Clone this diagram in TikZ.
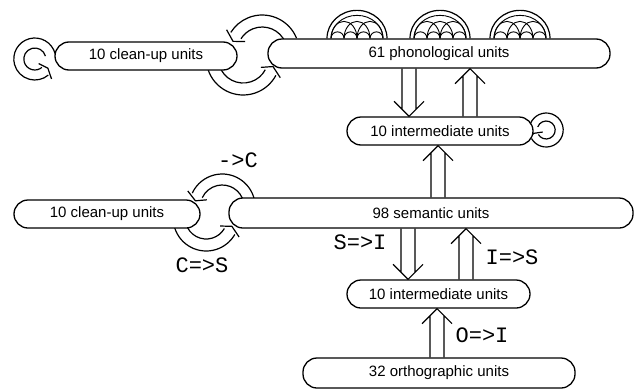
\documentclass[tikz,border=0pt]{standalone}
\usepackage{fontspec}
\setmainfont{Liberation Sans}
\newfontfamily\labelfont{Liberation Mono}
\usetikzlibrary{calc}
\tikzstyle{unit} = [draw, line width=1.3pt, fill=white, rounded corners=14pt, minimum height=28pt, inner sep=0pt, font=\fontsize{15}{18}\selectfont]
\tikzstyle{fat} = [line width=1.2pt, line join=round]
\tikzstyle{lbl} = [font=\labelfont\fontsize{22}{24}\selectfont]
\tikzset{dome/.pic={
  \draw[fat] (-30,0) arc[start angle=180, end angle=360, x radius=30, y radius=28];
  \draw[line width=0.9pt] (-26,0) arc[start angle=180, end angle=360, x radius=26, y radius=23];
  \foreach \i in {-19.5,-6.5,6.5,19.5}
    \draw[line width=0.9pt] (\i-6.5,0) arc[start angle=180, end angle=360, radius=6.5];
  \foreach \i in {-13,0,13}
    \draw[line width=0.9pt] (\i-13,0) arc[start angle=180, end angle=360, x radius=13, y radius=17];
}}

% fat arrows: start point, tip
\newcommand\fatup[2]{%
  \draw[fat] let \p1=#1, \p2=#2 in
    (\x1-7pt,\y1) -- (\x1-7pt,\y2-7pt) (\x1+7pt,\y1) -- (\x1+7pt,\y2-7pt)
    (\x1-15pt,\y2-15pt) -- (\x1,\y2) -- (\x1+15pt,\y2-15pt);}
\newcommand\fatdown[2]{%
  \draw[fat] let \p1=#1, \p2=#2 in
    (\x1-7pt,\y1) -- (\x1-7pt,\y2+7pt) (\x1+7pt,\y1) -- (\x1+7pt,\y2+7pt)
    (\x1-15pt,\y2+15pt) -- (\x1,\y2) -- (\x1+15pt,\y2+15pt);}
% curved fat arrows: centre, from, to, inner r, outer r, tip angle
\newcommand\fatarc[6]{%
  \draw[fat] ([shift={(#2:#4)}]#1) arc[start angle=#2, end angle=#3, radius=#4]
    ([shift={(#2:#5)}]#1) arc[start angle=#2, end angle=#3, radius=#5]
    ([shift={(#3:{#4-5})}]#1) -- ([shift={(#6:{(#4+#5)/2})}]#1) -- ([shift={(#3:{#5+5})}]#1);}

\begin{document}
\begin{tikzpicture}[x=1pt, y=-1pt]
  \useasboundingbox (0,0) rectangle (644,391);

  % positions of the boxes
  \coordinate (pclean1) at (146,56);
  \coordinate (pphon) at (439,53.5);
  \coordinate (pint1) at (440,131);
  \coordinate (pclean2) at (107,214);
  \coordinate (psem) at (431,213);
  \coordinate (pint2) at (438.5,294);
  \coordinate (porth) at (439,373);

  % the boxes are drawn twice: first empty, so the loops can use their anchors
  \path (pclean1) node[minimum width=182pt, minimum height=28pt, inner sep=0pt] (clean1) {};
  \path (pint1) node[minimum width=186pt, minimum height=28pt, inner sep=0pt] (int1) {};
  \path (pclean2) node[minimum width=186pt, minimum height=28pt, inner sep=0pt] (clean2) {};

  \coordinate (c1) at ($(clean1.east)+(25,-4)$);
  \coordinate (c2) at ($(clean1.east)+(6,2)$);
  \coordinate (c3) at ($(clean2.east)+(22,-7)$);
  \coordinate (c4) at ($(clean2.east)+(6,4)$);
  \coordinate (c5) at ($(clean1.west)+(-20,3)$);
  \coordinate (c6) at ($(int1.east)+(13,-1)$);

  \fatarc{c1}{338}{212}{25}{37}{200}
  \fatarc{c2}{162}{28}{25}{37}{16}
  \fatarc{c3}{347}{205}{22}{33}{193}
  \fatarc{c4}{163}{30}{21}{33}{18}
  \fatarc{c5}{345}{50}{11}{21}{35}
  \fatarc{c6}{200}{510}{9}{17}{525}

  \node[unit, minimum width=182pt] (clean1) at (pclean1) {10 clean-up units};
  \node[unit, minimum width=342pt, minimum height=29pt] (phon) at (pphon) {61 phonological units};
  \node[unit, minimum width=186pt] (int1) at (pint1) {10 intermediate units};
  \node[unit, minimum width=186pt] (clean2) at (pclean2) {10 clean-up units};
  \node[unit, minimum width=404pt, minimum height=30pt] (sem) at (psem) {98 semantic units};
  \node[unit, minimum width=183pt] (int2) at (pint2) {10 intermediate units};
  \node[unit, minimum width=272pt, minimum height=30pt] (orth) at (porth) {32 orthographic units};

  \foreach \dx in {-82,1,81}
    \pic at ($(phon.north)+(\dx,0)$) {dome};

  \coordinate (a1) at ([xshift=-30pt]phon.south);
  \coordinate (a2) at ([xshift=30pt]int1.north);
  \coordinate (a3) at ([xshift=7pt]sem.north);
  \coordinate (a4) at ([xshift=-23pt]sem.south);
  \coordinate (a5) at ([xshift=27.5pt]int2.north);
  \coordinate (a6) at ([xshift=-2pt]orth.north);
  \fatdown{(a1)}{(a1 |- int1.north)}
  \fatup{(a2)}{(a2 |- phon.south)}
  \fatup{(a3)}{(a3 |- int1.south)}
  \fatdown{(a4)}{(a4 |- int2.north)}
  \fatup{(a5)}{(a5 |- sem.south)}
  \fatup{(a6)}{(a6 |- int2.south)}

  \node[lbl] (lSC) at (238,160) {->C};
  \node[lbl] (lCS) at (202,265) {C=>S};
  \node[lbl] (lSI) at (360,242) {S=>I};
  \node[lbl] (lIS) at (512,257) {I=>S};
  \node[lbl] (lOI) at (482,335) {O=>I};
\end{tikzpicture}
\end{document}
